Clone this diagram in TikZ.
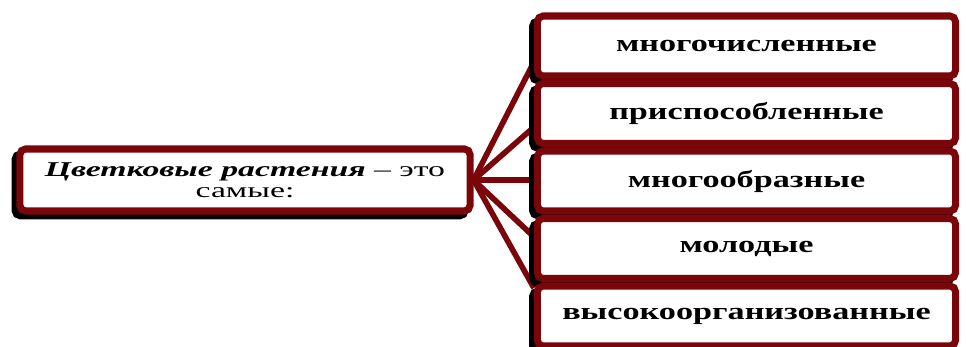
\documentclass[tikz,border=0pt]{standalone}
\usepackage{fontspec}
\newfontfamily\boxfont{Liberation Serif}[FakeStretch=1.43]
\newfontfamily\leftfont{Liberation Serif}[FakeStretch=1.6]
\usetikzlibrary{calc}
\usetikzlibrary{shadows}
\usetikzlibrary{backgrounds}
\definecolor{boxred}{RGB}{122,6,10}
\tikzset{
  rbox/.style={draw=boxred, line width=5pt, rounded corners=4pt, fill=white,
    minimum width=10.45cm, minimum height=1.5cm, inner sep=0pt,
    font=\boxfont\fontsize{17}{20}\selectfont\bfseries,
    drop shadow={shadow xshift=-3.5pt, shadow yshift=-3.5pt, opacity=1, fill=black, draw=black, line width=5pt}},
  lbox/.style={rbox, minimum width=11.25cm, minimum height=1.55cm, align=center,
    font=\leftfont\fontsize{15}{15}\selectfont},
  link/.style={draw=boxred, line width=4pt}
}
\begin{document}
\begin{tikzpicture}[x=0.025cm, y=-0.025cm]
    \useasboundingbox (0,0) rectangle (966,347);
    % left box
    \node[lbox] (plants) at (245,180) {\textbf{\textit{Цветковые растения}} – это\\ самые:};
    % right column
    \node[rbox] (many) at (746.5,46) {многочисленные};
    \node[rbox] (adapted) at (746.5,113.5) {приспособленные};
    \node[rbox] (varied) at (746.5,181) {многообразные};
    \node[rbox] (young) at (746.5,248.5) {молодые};
    \node[rbox] (organized) at (746.5,316) {высокоорганизованные};
    % links behind the boxes
    \begin{scope}[on background layer]
        \draw[link] (plants.east) -- ([yshift=-0.4cm]many.west);
        \draw[link] (plants.east) -- ([yshift=-0.34cm]adapted.west);
        \draw[link] (plants.east) -- ([yshift=0.025cm]varied.west);
        \draw[link] (plants.east) -- ([yshift=0.29cm]young.west);
        \draw[link] (plants.east) -- ([yshift=0.7cm]organized.west);
    \end{scope}
\end{tikzpicture}
\end{document}
